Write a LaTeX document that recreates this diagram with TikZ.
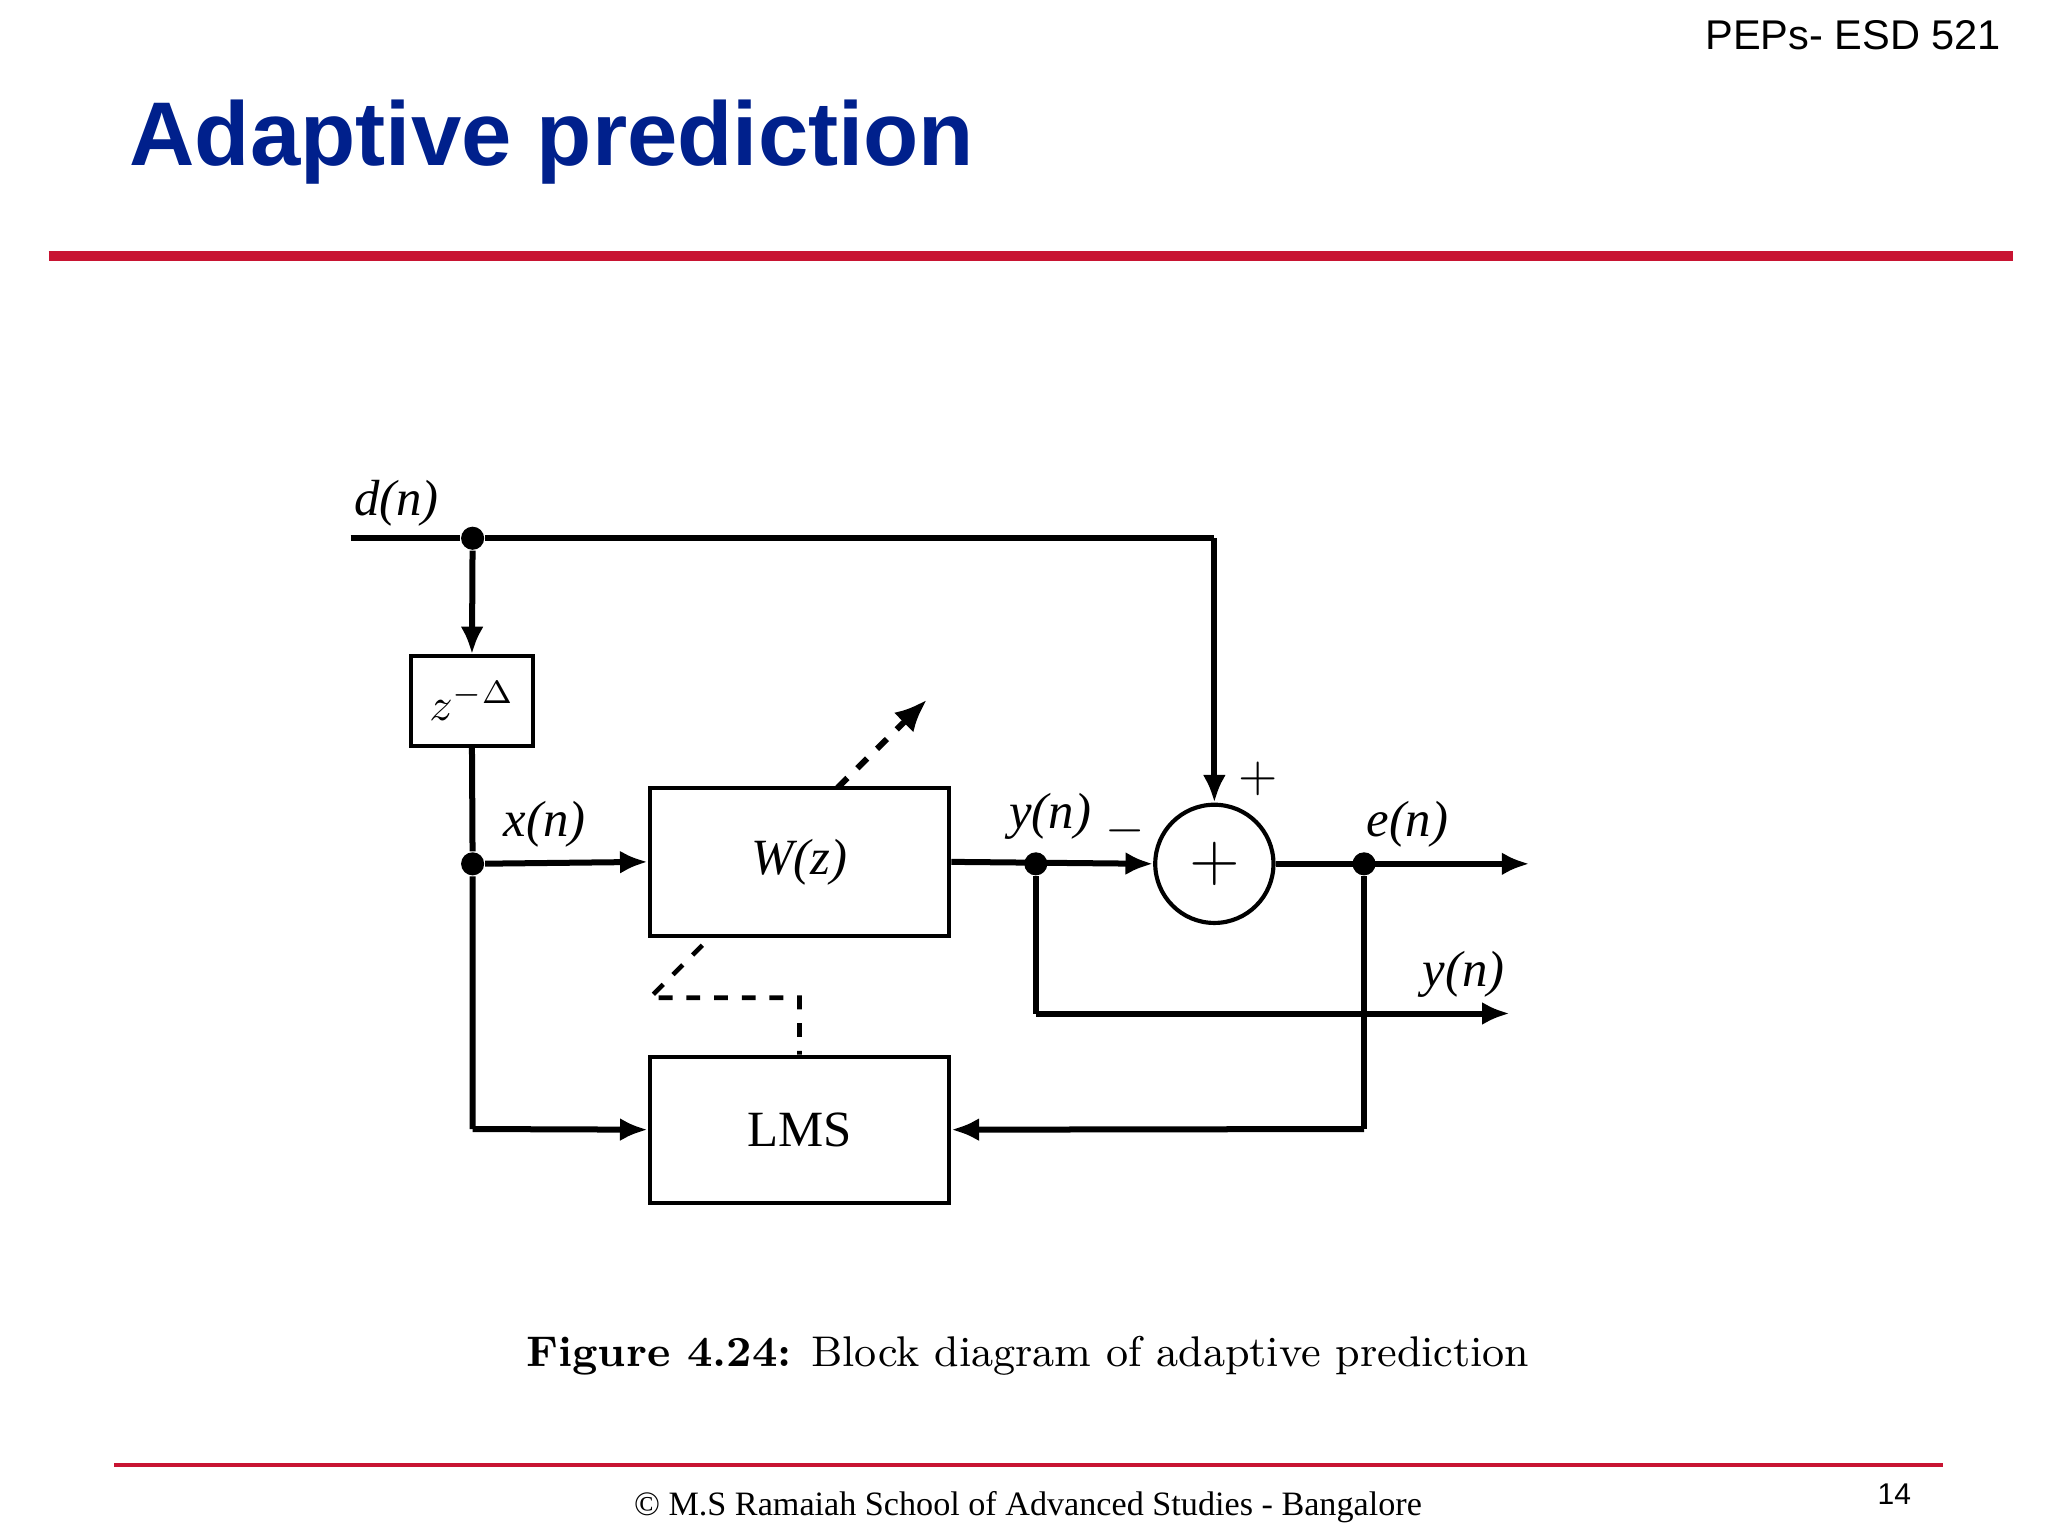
\documentclass[tikz,border=0pt]{standalone}
\usepackage{fontspec}
\newfontfamily\arialf{Liberation Sans}
\newfontfamily\timesf{Liberation Serif}
\usetikzlibrary{arrows.meta}
\definecolor{ttl}{RGB}{0,32,140}
\definecolor{rl}{RGB}{200,20,50}
\tikzset{blk/.style={draw,line width=0.9pt,inner sep=0},
 sig/.style={line width=1.3pt},
 arr/.style={sig,-{Latex[length=6pt,width=5pt]}},
 dot/.style={circle,fill,inner sep=0,minimum size=5pt},
 lbl/.style={font=\timesf\itshape\fontsize{11}{13}\selectfont}}
\begin{document}
\begin{tikzpicture}[x=0.01cm,y=-0.01cm]
\useasboundingbox (0,0) rectangle (1560,1170);
\node[anchor=west,inner sep=0,text=ttl,font=\arialf\bfseries\fontsize{19.6}{22}\selectfont] (title) at (98,108) {Adaptive prediction};
\node[anchor=east,inner sep=0,font=\arialf\fontsize{9}{11}\selectfont] (hdr) at (1525,27) {PEPs- ESD 521};
\draw[rl,line width=2pt] (37,195) -- (1533,195);
\draw[rl,line width=1pt] (87,1116) -- (1480,1116);
\node[font=\timesf\fontsize{7.4}{9}\selectfont] (foot) at (783,1148) {© M.S Ramaiah School of Advanced Studies - Bangalore};
\node[font=\arialf\fontsize{6.5}{8}\selectfont] (pg) at (1443,1138) {14};
\node[font=\fontsize{9.3}{11}\selectfont] (cap) at (783,1033) {\textbf{Figure 4.24:} Block diagram of adaptive prediction};
% blocks
\node[blk,minimum width=0.93cm,minimum height=0.68cm] (zb) at (359.5,534) {\timesf$z^{-\Delta}$};
\node[blk,minimum width=2.28cm,minimum height=1.13cm,font=\timesf\itshape\fontsize{11}{13}\selectfont] (W) at (609,656.5) {W(z)};
\node[blk,minimum width=2.28cm,minimum height=1.11cm,font=\timesf\fontsize{11}{13}\selectfont] (L) at (609,860.5) {LMS};
\node[draw,circle,line width=0.9pt,minimum size=0.9cm,inner sep=0] (S) at (925,658) {\fontsize{14}{14}\selectfont$+$};
% coordinates
\coordinate (din) at (267,410);
\node[dot] (d1) at (360,410) {};
\coordinate (dr) at (925,410);
\node[dot] (x1) at (360,658) {};
\coordinate (xb) at (360,860);
\node[dot] (y1) at (789,658) {};
\coordinate (yb) at (789,772);
\coordinate (yo) at (1150,772);
\node[dot] (e1) at (1039,658) {};
\coordinate (eo) at (1165,658);
\coordinate (eb) at (1039,860);
% connections
\draw[sig] (din) -- (d1) -- (dr);
\draw[arr] (dr) -- (S.north);
\draw[arr] (d1) -- (zb.north);
\draw[sig] (zb.south) -- (x1) -- (xb);
\draw[arr] (xb) -- (L.west);
\draw[arr] (x1) -- (W.west);
\draw[arr] (W.east) -- (S.west);
\draw[arr] (S.east) -- (eo);
\draw[sig] (y1) -- (yb);
\draw[arr] (yb) -- (yo);
\draw[sig] (e1) -- (eb);
\draw[arr] (eb) -- (L.east);
% dashed
\coordinate (da) at (638,600);
\coordinate (db) at (706,533);
\draw[line width=1.3pt,dashed,-{Latex[length=7pt,width=6pt]}] (da) -- (db);
\coordinate (dc) at (535,720);
\coordinate (dd) at (495,760);
\coordinate (de) at (609,760);
\draw[line width=1pt,dashed] (dc) -- (dd) -- (de) -- (L.north);
% labels
\node[lbl] (ld) at (302,383) {d(n)};
\node[lbl] (lx) at (415,628) {x(n)};
\node[lbl] (ly) at (800,622) {y(n)};
\node[lbl] (le) at (1072,628) {e(n)};
\node[lbl] (ly2) at (1115,742) {y(n)};
\node[font=\fontsize{11}{12}\selectfont] (mn) at (857,633) {$-$};
\node[font=\fontsize{11}{12}\selectfont] (pl) at (958,593) {$+$};
\end{tikzpicture}
\end{document}
